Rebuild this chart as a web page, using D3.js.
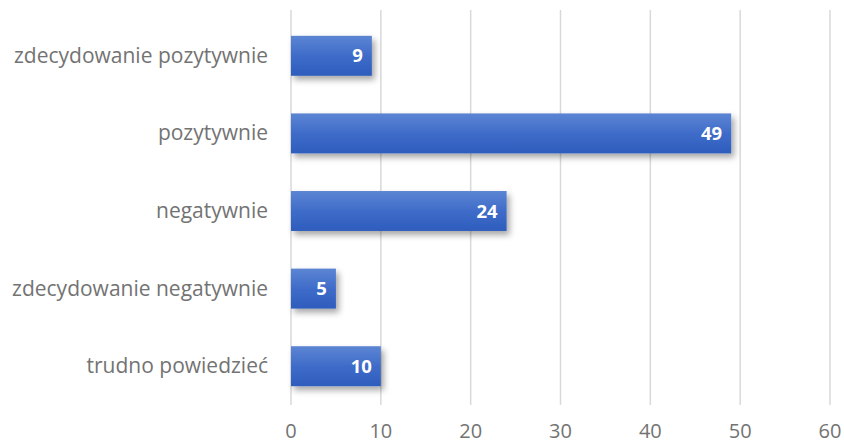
<!DOCTYPE html>
<html>
<meta charset="utf-8">
<script src="https://cdn.jsdelivr.net/npm/d3@7"></script>
<style>
  body { margin: 0; background: #fff; }
  text { font-family: "Open Sans", sans-serif; }
</style>
<body>
<div id="chart"></div>
<script>

var categories = ["zdecydowanie pozytywnie", "pozytywnie", "negatywnie", "zdecydowanie negatywnie", "trudno powiedzieć"]
var values = [9, 49, 24, 5, 10]
var ticks = [0, 10, 20, 30, 40, 50, 60]

var width = 844, height = 445
var svg = d3.select("#chart").append("svg")
  .attr("width", width)
  .attr("height", height)

var defs = svg.append("defs")
var grad = defs.append("linearGradient").attr("id", "barGrad")
  .attr("x1", 0).attr("y1", 0).attr("x2", 0).attr("y2", 1)
grad.append("stop").attr("offset", "0%").attr("stop-color", "#5c85d3")
grad.append("stop").attr("offset", "50%").attr("stop-color", "#3f6cc9")
grad.append("stop").attr("offset", "100%").attr("stop-color", "#2e5dbd")

var shadow = defs.append("filter").attr("id", "shadow")
  .attr("x", "-10%").attr("y", "-20%").attr("width", "130%").attr("height", "160%")
shadow.append("feDropShadow")
  .attr("dx", 3).attr("dy", 4).attr("stdDeviation", 3)
  .attr("flood-color", "#000").attr("flood-opacity", 0.35)

var x = d3.scaleLinear().domain([0, 60]).range([291, 830])
var y = d3.scaleBand().domain(categories).range([17, 405]).paddingInner(0.485).paddingOuter(0.2425)

// gridlines
svg.append("g").selectAll("line")
  .data(ticks)
  .enter().append("line")
  .attr("x1", function(d){ return x(d) })
  .attr("x2", function(d){ return x(d) })
  .attr("y1", 10)
  .attr("y2", 405)
  .attr("stroke", "#d9d9d9")
  .attr("stroke-width", 1.5)

// tick labels
svg.append("g").selectAll("text")
  .data(ticks)
  .enter().append("text")
  .attr("x", function(d){ return x(d) })
  .attr("y", 438)
  .attr("text-anchor", "middle")
  .attr("fill", "#737373")
  .attr("font-size", "20px")
  .text(function(d){ return d })

// bars
svg.append("g").selectAll("rect")
  .data(values)
  .enter().append("rect")
  .attr("x", x(0))
  .attr("y", function(d, i){ return y(categories[i]) })
  .attr("width", function(d){ return x(d) - x(0) })
  .attr("height", y.bandwidth())
  .attr("fill", "url(#barGrad)")
  .attr("filter", "url(#shadow)")

// value labels
svg.append("g").selectAll("text")
  .data(values)
  .enter().append("text")
  .attr("x", function(d){ return x(d) - 9 })
  .attr("y", function(d, i){ return y(categories[i]) + y.bandwidth() / 2 + 6.5 })
  .attr("text-anchor", "end")
  .attr("fill", "#fff")
  .attr("font-weight", "bold")
  .attr("font-size", "18.5px")
  .text(function(d){ return d })

// category labels
svg.append("g").selectAll("text")
  .data(categories)
  .enter().append("text")
  .attr("x", 268)
  .attr("y", function(d){ return y(d) + y.bandwidth() / 2 + 7 })
  .attr("text-anchor", "end")
  .attr("fill", "#737373")
  .attr("font-size", "21px")
  .text(function(d){ return d })

</script>
</body>
</html>
